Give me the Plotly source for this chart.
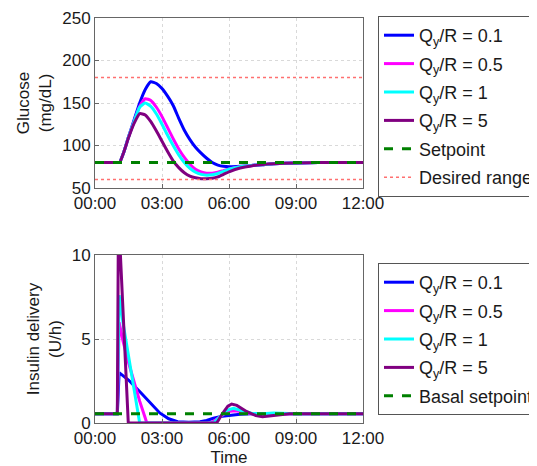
import plotly.graph_objects as go

# ---------------- data ----------------
tick_hours = [0, 3, 6, 9, 12]
tick_labels = ["00:00", "03:00", "06:00", "09:00", "12:00"]

series_names = ["Q<sub>y</sub>/R = 0.1", "Q<sub>y</sub>/R = 0.5", "Q<sub>y</sub>/R = 1", "Q<sub>y</sub>/R = 5"]
series_colors = ["#0000ff", "#ff00ff", "#00ffff", "#800080"]

# Glucose (mg/dL) vs time (h)
t_glu = [0, 1.0, 1.1, 1.3, 1.5, 1.75, 2.0, 2.25, 2.5, 2.75, 3.0, 3.25, 3.5, 3.75, 4.0, 4.25,
         4.5, 4.75, 5.0, 5.25, 5.5, 5.75, 6.0, 6.5, 7.0, 7.5, 8.0, 9.0, 10.0, 12.0]
glu_q01 = [80, 80, 80, 93, 110, 130, 150, 166, 175, 173, 167, 158, 147, 132, 118, 107,
           98, 91, 85, 80, 77, 75.5, 75, 75.5, 76.5, 77.5, 78.5, 79.5, 80, 80]
glu_q05 = [80, 80, 80, 93, 110, 128, 146, 155, 153, 145, 134, 121, 108, 96, 86, 78,
           72, 69, 67.5, 67.5, 68.5, 70.5, 72.5, 75, 76.5, 77.5, 78.5, 79.5, 80, 80]
glu_q1 = [80, 80, 80, 93, 110, 128, 145, 150, 146, 137, 125, 112, 100, 89, 80, 73,
          68.5, 66, 65, 65.5, 67, 69.5, 72, 75, 76.5, 77.5, 78.5, 79.5, 80, 80]
glu_q5 = [80, 80, 80, 93, 109, 126, 137.5, 136, 128, 117, 105, 93, 82, 74, 68, 64,
          62, 61, 61, 61.5, 63, 66, 69, 73.5, 76, 77.5, 78.5, 79.5, 80, 80]
glucose_setpoint = 80
desired_low = 60
desired_high = 180

# Insulin delivery (U/h) vs time (h)
t_ins_q01 = [0, 1.0, 1.08, 1.5, 2.0, 2.5, 2.9, 3.3, 3.7, 4.2, 4.7, 5.0, 5.3, 5.7, 6.1, 6.5, 7.0, 12.0]
ins_q01 = [0.55, 0.55, 3.0, 2.56, 1.87, 1.2, 0.6, 0.25, 0.08, 0.05, 0.08, 0.15, 0.28, 0.4, 0.48, 0.52, 0.55, 0.55]
t_ins_q05 = [0, 1.0, 1.08, 1.25, 1.5, 1.75, 2.0, 2.25, 2.32, 5.2, 5.5, 5.8, 6.05, 6.3, 6.6, 7.0, 7.5, 8.5, 12.0]
ins_q05 = [0.55, 0.55, 6.0, 4.9, 3.6, 2.4, 1.3, 0.3, 0, 0, 0.25, 0.55, 0.7, 0.73, 0.65, 0.55, 0.52, 0.55, 0.55]
t_ins_q1 = [0, 1.0, 1.08, 1.25, 1.5, 1.75, 2.0, 5.3, 5.6, 5.9, 6.2, 6.5, 7.0, 7.5, 8.0, 9.0, 12.0]
ins_q1 = [0.55, 0.55, 7.6, 6.0, 4.0, 2.0, 0, 0, 0.35, 0.75, 0.87, 0.75, 0.58, 0.55, 0.6, 0.55, 0.55]
t_ins_q5 = [0, 1.0, 1.05, 1.49, 5.45, 5.7, 5.95, 6.12, 6.35, 6.8, 7.2, 7.5, 8.0, 8.7, 12.0]
ins_q5 = [0.55, 0.55, 12.5, 0, 0, 0.55, 1.0, 1.13, 1.05, 0.67, 0.45, 0.38, 0.45, 0.55, 0.55]
basal_setpoint = 0.55

t_span = [0, 12]

# ---------------- figure ----------------
W, H = 537, 466
OFF = 8  # page body margin
FONT = "Arial, Liberation Sans, sans-serif"


def xp(px):
    return (px - OFF) / W


def yp(py):
    return 1 - (py - OFF) / H


fig = go.Figure()

glu_series = [glu_q01, glu_q05, glu_q1, glu_q5]
for i, (name, col, ys) in enumerate(zip(series_names, series_colors, glu_series)):
    fig.add_trace(go.Scatter(x=t_glu, y=ys, mode="lines", name=name, legendgroup="g%d" % i,
                             line=dict(color=col, width=3, shape="spline", smoothing=0.5),
                             xaxis="x", yaxis="y", legend="legend"))
fig.add_trace(go.Scatter(x=t_span, y=[glucose_setpoint] * 2, mode="lines", name="Setpoint",
                         legendgroup="gs", line=dict(color="#008000", width=3, dash="dash"),
                         xaxis="x", yaxis="y", legend="legend"))
fig.add_trace(go.Scatter(x=t_span, y=[desired_high] * 2, mode="lines", name="Desired range",
                         legendgroup="gr", line=dict(color="#ff7070", width=1.5, dash="dot"),
                         xaxis="x", yaxis="y", legend="legend"))
fig.add_trace(go.Scatter(x=t_span, y=[desired_low] * 2, mode="lines", name="Desired range",
                         legendgroup="gr", line=dict(color="#ff7070", width=1.5, dash="dot"),
                         showlegend=False, xaxis="x", yaxis="y", legend="legend"))

ins_t = [t_ins_q01, t_ins_q05, t_ins_q1, t_ins_q5]
ins_series = [ins_q01, ins_q05, ins_q1, ins_q5]
for i, (name, col, xs, ys) in enumerate(zip(series_names, series_colors, ins_t, ins_series)):
    fig.add_trace(go.Scatter(x=xs, y=ys, mode="lines", name=name, legendgroup="i%d" % i,
                             line=dict(color=col, width=3),
                             xaxis="x2", yaxis="y2", legend="legend2"))
fig.add_trace(go.Scatter(x=t_span, y=[basal_setpoint] * 2, mode="lines", name="Basal setpoint",
                         legendgroup="ib", line=dict(color="#008000", width=3, dash="dash"),
                         xaxis="x2", yaxis="y2", legend="legend2"))

x0, x1 = xp(95), xp(363)
axis_common = dict(showline=True, mirror=True, linecolor="#666666", linewidth=1,
                   ticks="inside", ticklen=4, tickcolor="#666666",
                   showgrid=True, gridcolor="#d9d9d9", griddash="dot", gridwidth=1,
                   zeroline=False, tickfont=dict(size=17, color="#1a1a1a", family=FONT))

fig.update_layout(
    width=W, height=H,
    margin=dict(l=0, r=0, t=0, b=0, autoexpand=False),
    paper_bgcolor="white", plot_bgcolor="white",
    font=dict(family=FONT, size=17, color="#1a1a1a"),
    hovermode=False,
    xaxis=dict(domain=[x0, x1], range=[0, 12], tickvals=tick_hours, ticktext=tick_labels,
               anchor="y", **axis_common),
    yaxis=dict(domain=[yp(188), yp(18)], range=[50, 250], tickvals=[50, 100, 150, 200, 250],
               anchor="x", title=dict(text="Glucose<br>(mg/dL)", standoff=6, font=dict(size=17)),
               **axis_common),
    xaxis2=dict(domain=[x0, x1], range=[0, 12], tickvals=tick_hours, ticktext=tick_labels,
                anchor="y2", title=dict(text="Time", standoff=0, font=dict(size=17)), **axis_common),
    yaxis2=dict(domain=[yp(423), yp(255)], range=[0, 10], tickvals=[0, 5, 10],
                anchor="x2", title=dict(text="Insulin delivery<br>(U/h)", standoff=5, font=dict(size=17)),
                **axis_common),
    legend=dict(x=xp(378), y=yp(16), xanchor="left", yanchor="top",
                bordercolor="#555555", borderwidth=1, bgcolor="white",
                font=dict(size=18, family=FONT), tracegroupgap=2),
    legend2=dict(x=xp(378), y=yp(263), xanchor="left", yanchor="top",
                 bordercolor="#555555", borderwidth=1, bgcolor="white",
                 font=dict(size=18, family=FONT), tracegroupgap=2),
)

fig.write_html("out.html")
